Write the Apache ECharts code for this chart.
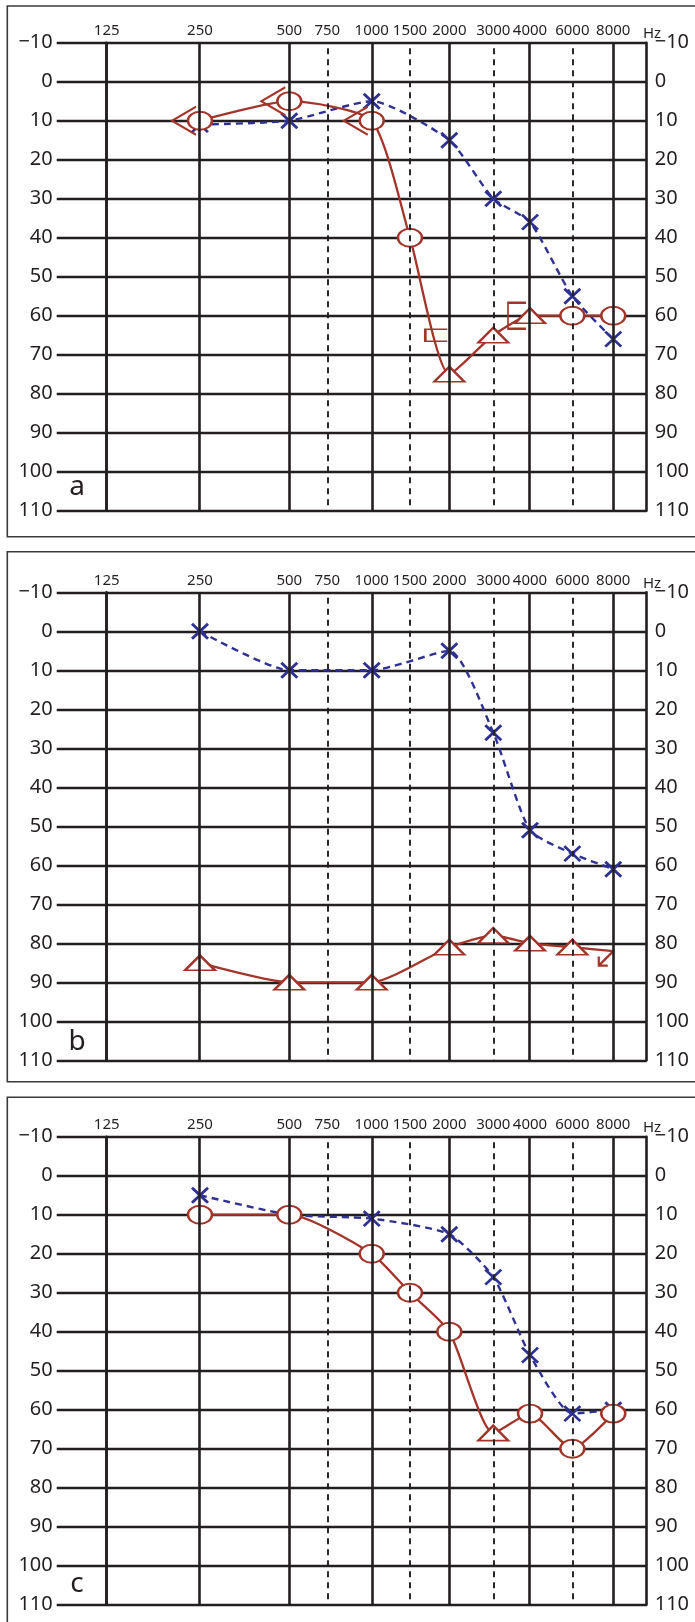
<!DOCTYPE html>
<html>
<head>
<meta charset="utf-8">
<script src="https://cdn.jsdelivr.net/npm/echarts@6/dist/echarts.min.js"></script>
<style>
  html, body { margin: 0; padding: 0; background: #fff; }
  #main { width: 695px; height: 1622px; }
</style>
</head>
<body>
<div id="main"></div>
<script>
// audiogram columns (Hz) and their place on the printed form, in octaves from 125 Hz
var freqs = [125, 250, 500, 750, 1000, 1500, 2000, 3000, 4000, 6000, 8000];
var freqLabels = ['125', '250', '500', '750', '1000', '1500', '2000', '3000', '4000', '6000', '8000'];
var colPos = [0, 1.105, 2.163, 2.613, 3.139, 3.592, 4.058, 4.579, 5.014, 5.515, 6];
var halfOctave = [750, 1500, 3000, 6000];

// panel a
var aBlueFreq = [250, 500, 1000, 2000, 3000, 4000, 6000, 8000];
var aBlueDb = [11, 10, 5, 15, 30, 36, 55, 66];
var aRedFreq = [250, 500, 1000, 1500, 2000, 3000, 4000, 6000, 8000];
var aRedDb = [10, 5, 10, 40, 75, 65, 60, 60, 60];
var aRedMark = ['o', 'o', 'o', 'o', 't', 't', 't', 'o', 'o'];
var aBoneFreq = [250, 500, 1000];
var aBoneDb = [10, 5, 10];
var aMaskFreq = [2000, 4000];
var aMaskDb = [65, 60];

// panel b
var bBlueFreq = [250, 500, 1000, 2000, 3000, 4000, 6000, 8000];
var bBlueDb = [0, 10, 10, 5, 26, 51, 57, 61];
var bRedFreq = [250, 500, 1000, 2000, 3000, 4000, 6000, 8000];
var bRedDb = [85, 90, 90, 81, 78, 80, 81, 82];
var bRedMark = ['t', 't', 't', 't', 't', 't', 't', 'nr'];

// panel c
var cBlueFreq = [250, 500, 1000, 2000, 3000, 4000, 6000, 8000];
var cBlueDb = [5, 10, 11, 15, 26, 46, 61, 60];
var cRedFreq = [250, 500, 1000, 1500, 2000, 3000, 4000, 6000, 8000];
var cRedDb = [10, 10, 20, 30, 40, 66, 61, 70, 61];
var cRedMark = ['o', 'o', 'o', 'o', 'o', 't', 'o', 'o', 'o'];

var ink = '#231f20';
var red = '#a3342a';
var blue = '#2e3192';
var font = 'Noto Sans';

var SYM_X = 'path://M0,0L10,10M10,0L0,10';
var SYM_O = 'path://M0,5A5,5,0,1,1,10,5A5,5,0,1,1,0,5Z';
var SYM_LT = 'path://M10,0L0,5L10,10';
var SYM_BR = 'path://M10,0L0,0L0,10L10,10';
var SYM_NR = 'path://M10,0L0,10M0,4L0,10L6,10';

function colAt(f) { return colPos[freqs.indexOf(f)]; }

function redItem(f, db, m) {
  var it = { value: [colAt(f), db] };
  if (m === 'o') { it.symbol = SYM_O; it.symbolSize = [24, 18]; }
  if (m === 't') { it.symbol = 'triangle'; it.symbolSize = [30, 15]; }
  if (m === 'nr') {
    it.symbol = SYM_NR; it.symbolSize = [15, 15]; it.symbolOffset = [-7, 7];
    it.itemStyle = { color: 'none' };
  }
  return it;
}

var panelTops = [42.7, 592.3, 1136.7];
var plotH = 468;
var grids = [], xAxes = [], yAxes = [], series = [];

panelTops.forEach(function (top, g) {
  grids.push({ left: 56.7, top: top, width: 590, height: plotH });
  xAxes.push({
    gridIndex: g, type: 'value', position: 'top', min: -0.592, max: 6.396,
    axisLine: { show: false }, axisTick: { show: false }, splitLine: { show: false },
    axisLabel: {
      customValues: colPos, margin: 4, fontSize: 15, color: ink, fontFamily: font,
      formatter: function (v) {
        var best = 0;
        colPos.forEach(function (p, i) { if (Math.abs(p - v) < Math.abs(colPos[best] - v)) best = i; });
        return freqLabels[best];
      }
    }
  });
  var yBase = {
    gridIndex: g, type: 'value', min: -10, max: 110, interval: 10, inverse: true,
    axisLine: { show: true, lineStyle: { color: ink, width: 2.6 } },
    axisTick: { show: false },
    axisLabel: {
      fontSize: 20, color: ink, fontFamily: font,
      formatter: function (v) { return String(v).replace('-', '\u2212'); }
    }
  };
  yAxes.push(echarts.util.merge({ position: 'left', splitLine: { show: true, lineStyle: { color: ink, width: 2.4 } }, axisLabel: { margin: 4 } }, yBase, false));
  yAxes.push(echarts.util.merge({ position: 'right', splitLine: { show: false }, axisLabel: { margin: 8 } }, yBase, false));

  // printed vertical rules of the form
  var rules = [];
  freqs.forEach(function (f, i) {
    if (halfOctave.indexOf(f) >= 0) {
      rules.push([{ coord: [colPos[i], -8.6], lineStyle: { type: [6, 5], width: 1.9, color: ink } },
                  { coord: [colPos[i], 110] }]);
    } else {
      rules.push({ xAxis: colPos[i], lineStyle: { type: 'solid', width: 2.6, color: ink } });
    }
  });
  series.push({
    type: 'line', xAxisIndex: g, yAxisIndex: g * 2, data: [], z: 1, silent: true,
    markLine: { silent: true, symbol: 'none', label: { show: false }, animation: false, data: rules }
  });
});

function blueSeries(g, fr, db) {
  return {
    type: 'line', xAxisIndex: g, yAxisIndex: g * 2, z: 3, smooth: 0.2,
    data: fr.map(function (f, i) { return [colAt(f), db[i]]; }),
    symbol: SYM_X, symbolSize: [16, 15],
    lineStyle: { color: blue, width: 2.4, type: [7, 5] },
    itemStyle: { color: 'none', borderColor: blue, borderWidth: 2.8 },
    emphasis: { disabled: true }
  };
}
function redSeries(g, fr, db, mk) {
  return {
    type: 'line', xAxisIndex: g, yAxisIndex: g * 2, z: 4, smooth: 0.2,
    data: fr.map(function (f, i) { return redItem(f, db[i], mk[i]); }),
    lineStyle: { color: red, width: 2.3 },
    itemStyle: { color: '#fff', borderColor: red, borderWidth: 2.2 },
    emphasis: { disabled: true }
  };
}

series.push(blueSeries(0, aBlueFreq, aBlueDb));
series.push(redSeries(0, aRedFreq, aRedDb, aRedMark));
series.push({
  type: 'scatter', xAxisIndex: 0, yAxisIndex: 0, z: 5,
  data: aBoneFreq.map(function (f, i) { return [colAt(f), aBoneDb[i]]; }),
  symbol: SYM_LT, symbolSize: [24, 28], symbolOffset: [-16, 0],
  itemStyle: { color: 'none', borderColor: red, borderWidth: 2, opacity: 1 },
  emphasis: { disabled: true }
});
series.push({
  type: 'scatter', xAxisIndex: 0, yAxisIndex: 0, z: 5,
  data: aMaskFreq.map(function (f, i) {
    return { value: [colAt(f), aMaskDb[i]], symbolSize: i === 0 ? [22, 12] : [18, 26] };
  }),
  symbol: SYM_BR, symbolOffset: [-13, 0],
  itemStyle: { color: 'none', borderColor: red, borderWidth: 2, opacity: 1 },
  emphasis: { disabled: true }
});

series.push(blueSeries(1, bBlueFreq, bBlueDb));
series.push(redSeries(1, bRedFreq, bRedDb, bRedMark));

series.push(blueSeries(2, cBlueFreq, cBlueDb));
series.push(redSeries(2, cRedFreq, cRedDb, cRedMark));

var boxes = [[6, 530.7], [551.7, 530], [1097.3, 540]];
var letters = [['a', 487], ['b', 1042], ['c', 1584]];
var graphics = [];
boxes.forEach(function (b) {
  graphics.push({ type: 'rect', silent: true, shape: { x: 7.3, y: b[0], width: 700, height: b[1] },
    style: { fill: 'none', stroke: '#3a3a3a', lineWidth: 1.6 } });
});
letters.forEach(function (l) {
  graphics.push({ type: 'text', silent: true, x: 77, y: l[1],
    style: { text: l[0], font: '28px "Noto Sans"', fill: ink, textAlign: 'center', textVerticalAlign: 'middle' } });
});
panelTops.forEach(function (top) {
  graphics.push({ type: 'text', silent: true, x: 643, y: top - 1,
    style: { text: 'Hz', font: '15px "Noto Sans"', fill: ink, textAlign: 'left', textVerticalAlign: 'bottom' } });
});

var chart = echarts.init(document.getElementById('main'));
chart.setOption({
  animation: false,
  backgroundColor: '#fff',
  textStyle: { fontFamily: font },
  grid: grids,
  xAxis: xAxes,
  yAxis: yAxes,
  series: series,
  graphic: graphics
});
</script>
</body>
</html>
